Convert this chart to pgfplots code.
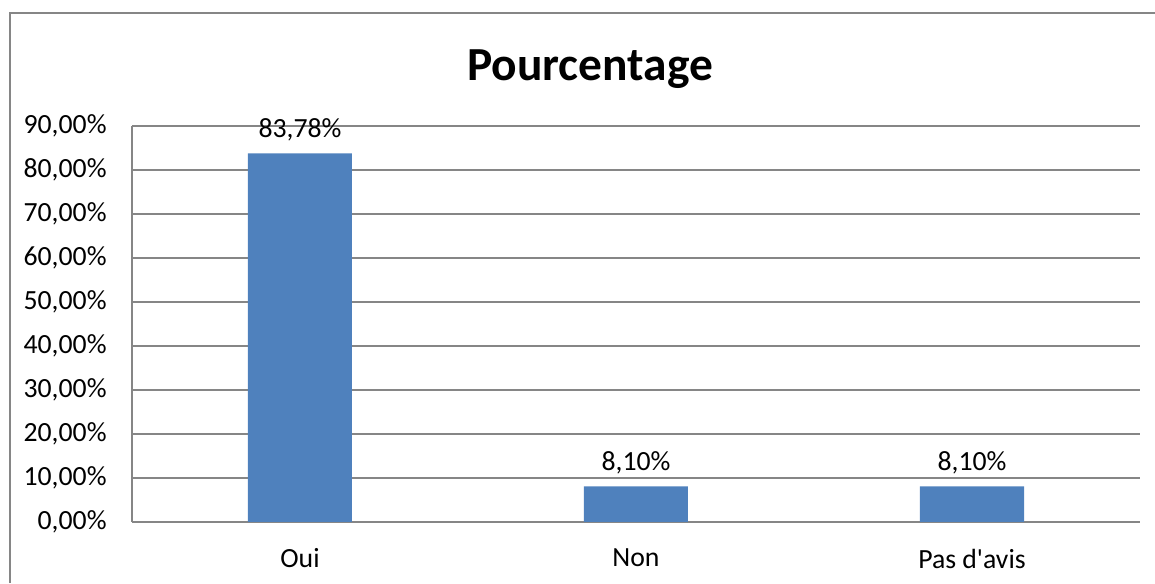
\documentclass[border=0pt]{standalone}
\usepackage{fontspec}
\setmainfont{Carlito}
\usepackage{pgfplots}
\pgfplotsset{compat=1.18}
\definecolor{barblue}{HTML}{4F81BD}
\definecolor{gridgray}{HTML}{868686}

\begin{document}
\begin{tikzpicture}[x=0.375pt,y=0.375pt]
% picture = 1155 x 583 px, 1 px = 0.375pt, y measured from bottom
\useasboundingbox (0,0) rectangle (1155,583);
% chart area border (cut at right and bottom)
\draw[gridgray, line width=0.75pt] (9.5,0) -- (9.5,569.5) -- (1155,569.5);
\node[font=\fontsize{17.8}{20}\selectfont\bfseries, anchor=center] at (590,514) {Pourcentage};

\begin{axis}[
  at={(49.5pt,22.875pt)}, anchor=south west,
  scale only axis,
  width=378pt, height=148.5pt,
  ybar, bar width=39pt,
  xmin=-0.5, xmax=2.5,
  ymin=0, ymax=90,
  xtick={0,1,2},
  xticklabels={Oui,Non,Pas d\textquotesingle avis},
  ytick={0,10,...,90},
  axis x line=bottom, axis y line=left,
  axis line style={gridgray, line width=0.75pt, -},
  major tick length=0pt,
  ymajorgrids=true,
  grid style={gridgray, line width=0.75pt},
  /pgf/number format/assume math mode=true,
  ticklabel style={font=\fontsize{10.4}{12}\selectfont},
  yticklabel={\pgfmathprintnumber[fixed,fixed zerofill,precision=2,use comma]{\tick}\%},
  yticklabel style={xshift=-6pt},
  xticklabel style={yshift=-6.5pt},
  nodes near coords={\pgfmathprintnumber[fixed,fixed zerofill,precision=2,use comma]{\pgfplotspointmeta}\%},
  every node near coord/.append style={font=\fontsize{10.4}{12}\selectfont, yshift=1pt},
]
\addplot[fill=barblue, draw=none] coordinates {(0,83.78) (1,8.10) (2,8.10)};
\end{axis}
\end{tikzpicture}
\end{document}
